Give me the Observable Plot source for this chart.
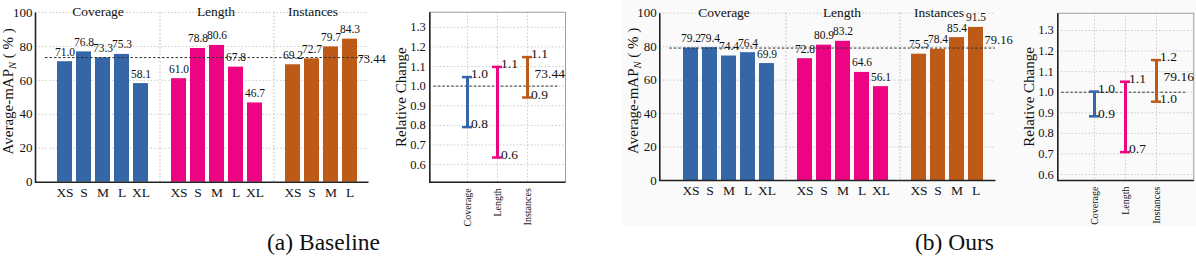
<!DOCTYPE html>
<html>
<head>
<meta charset="utf-8">
<script src="https://cdn.jsdelivr.net/npm/d3@7"></script>
<script src="https://cdn.jsdelivr.net/npm/@observablehq/plot@0.6"></script>
<style>
  html, body { margin: 0; padding: 0; background: #fff; }
  #root { position: relative; width: 1196px; height: 269px; overflow: hidden; font-family: "Liberation Serif", "Times New Roman", serif; }
  .panel { position: absolute; top: 0; }
  .panel text { font-family: "Liberation Serif", "Times New Roman", serif; }
  .caption { position: absolute; font-family: "Liberation Serif", "Times New Roman", serif; font-size: 23.5px; line-height: 1; color: #111; white-space: nowrap; }
  #bgright { position: absolute; left: 622px; top: 0; width: 574px; height: 226px; background: #fafafa; }
</style>
</head>
<body>
<div id="root">
  <div id="bgright"></div>
</div>
<script>
// ---- data ----
const groups = ["Coverage", "Length", "Instances"];
const groupColors = ["#3566a8", "#ec0482", "#bd5a17"];
const coverageSizes = ["XS", "S", "M", "L", "XL"];
const lengthSizes = ["XS", "S", "M", "L", "XL"];
const instanceSizes = ["XS", "S", "M", "L"];

const baselineCoverage = [71.0, 76.8, 73.3, 75.3, 58.1];
const baselineLength = [61.0, 78.8, 80.6, 67.8, 46.7];
const baselineInstances = [69.2, 72.7, 79.7, 84.3];
const baselineMean = 73.44;
const baselineRelLow = [0.791, 0.636, 0.942];
const baselineRelHigh = [1.046, 1.098, 1.148];

const oursCoverage = [79.2, 79.4, 74.4, 76.4, 69.9];
const oursLength = [72.8, 80.9, 83.2, 64.6, 56.1];
const oursInstances = [75.5, 78.4, 85.4, 91.5];
const oursMean = 79.16;
const oursRelLow = [0.883, 0.709, 0.954];
const oursRelHigh = [1.003, 1.051, 1.156];

const barTicks = [0, 20, 40, 60, 80, 100];
const relTicks = [0.6, 0.7, 0.8, 0.9, 1.0, 1.1, 1.2, 1.3];
const captions = ["(a) Baseline", "(b) Ours"];

// ---- helpers ----
const sizeLists = [coverageSizes, lengthSizes, instanceSizes];
const FONT = '"Liberation Serif", "Times New Roman", serif';
const color = {domain: groups, range: groupColors};

function barRows(vals) {
  const rows = [];
  groups.forEach((g, gi) => sizeLists[gi].forEach((s, i) => rows.push({group: g, size: s, key: g + "|" + s, value: vals[gi][i]})));
  return rows;
}
function barDomain() {
  const keys = [];
  groups.forEach((g, gi) => {
    if (gi > 0) keys.push("gap" + gi);
    sizeLists[gi].forEach(s => keys.push(g + "|" + s));
  });
  return keys;
}

function subscriptFix(svg) {
  svg.querySelectorAll("text").forEach(t => {
    if (t.textContent === "Average-mAP_N (%)") {
      t.textContent = "";
      const ns = "http://www.w3.org/2000/svg";
      const a = document.createElementNS(ns, "tspan"); a.textContent = "Average-mAP";
      const b = document.createElementNS(ns, "tspan"); b.textContent = "N";
      b.setAttribute("font-style", "italic"); b.setAttribute("font-size", "10.5"); b.setAttribute("dy", "3");
      const c = document.createElementNS(ns, "tspan"); c.textContent = " ( % )"; c.setAttribute("dy", "-3");
      t.append(a, b, c);
    }
  });
}

function barPanel({vals, mean, left, width, mLeft, mRight, mTop, mBottom, meanDy}) {
  const height = 205;
  const rows = barRows(vals);
  const domain = barDomain();
  const W = width - mLeft - mRight, H = height - mTop - mBottom;
  const svg = Plot.plot({
    width, height,
    marginLeft: mLeft, marginRight: mRight, marginTop: mTop, marginBottom: mBottom,
    style: {fontFamily: FONT, fontSize: "13px", background: "transparent", overflow: "visible", color: "#111"},
    x: {type: "band", domain, paddingInner: 0.21, paddingOuter: 0.855, align: 0.66, axis: null},
    y: {domain: [0, 100], axis: null},
    color,
    marks: [
      Plot.gridY(barTicks.slice(1), {stroke: "#aaa", strokeOpacity: 0.6, strokeDasharray: "1.5,2"}),
      Plot.ruleX(domain.filter(k => k.startsWith("gap")), {stroke: "#aaa", strokeOpacity: 0.8, strokeDasharray: "1.5,2"}),
      Plot.barY(rows, {x: "key", y: "value", fill: "group"}),
      Plot.frame({stroke: "#222", strokeWidth: 1.6, strokeDasharray: `0,${W + H},${W + H}`}),
      Plot.axisY(barTicks, {anchor: "left", tickSize: 0, tickPadding: 3, label: null, fontSize: 13}),
      Plot.axisX(rows.map(d => d.key), {anchor: "bottom", tickSize: 0, tickPadding: 5, label: null, tickFormat: k => k.split("|")[1], fontSize: 13.5}),
      Plot.text(rows, {x: "key", y: "value", text: d => d.value.toFixed(1), dy: -6, fontSize: 11.5, lineAnchor: "bottom"}),
      Plot.ruleY([mean], {stroke: "#333", strokeWidth: 1, strokeDasharray: "2.5,2", insetLeft: 10}),
      Plot.text([mean], {y: d => d, text: d => d.toFixed(2), frameAnchor: "right", textAnchor: "start", dx: -11, dy: meanDy, fontSize: 12.5}),
      Plot.text([groups[0]], {x: [groups[0] + "|M"], text: d => d, frameAnchor: "top", dy: -6, dx: -5, fontSize: 13.5}),
      Plot.text([groups[1]], {x: [groups[1] + "|M"], text: d => d, frameAnchor: "top", dy: -6, dx: -1, fontSize: 13.5}),
      Plot.text([groups[2]], {x: [groups[2] + "|S"], text: d => d, frameAnchor: "top", dy: -6, dx: 1, fontSize: 13.5}),
      Plot.text(["Average-mAP_N (%)"], {text: d => d, frameAnchor: "left", textAnchor: "middle", rotate: -90, dx: -27, dy: -6, fontSize: 15})
    ]
  });
  subscriptFix(svg);
  svg.classList.add("panel");
  svg.style.left = left + "px";
  document.getElementById("root").appendChild(svg);
}

function relPanel({low, high, mean, yDomain, left, width, mLeft, mRight, mTop, mBottom}) {
  const height = 240;
  const rows = groups.map((g, i) => ({group: g, low: low[i], high: high[i], mid: (low[i] + high[i]) / 2}));
  const W = width - mLeft - mRight, H = height - mTop - mBottom;
  const svg = Plot.plot({
    width, height,
    marginLeft: mLeft, marginRight: mRight, marginTop: mTop, marginBottom: mBottom,
    style: {fontFamily: FONT, fontSize: "14px", background: "transparent", overflow: "visible", color: "#111"},
    x: {type: "band", domain: groups, paddingInner: 0.68, paddingOuter: 1.03, axis: null},
    y: {domain: yDomain, axis: null},
    color,
    marks: [
      Plot.gridY(relTicks, {stroke: "#aaa", strokeOpacity: 0.6, strokeDasharray: "1.5,2"}),
      Plot.gridX(groups, {stroke: "#aaa", strokeOpacity: 0.6, strokeDasharray: "1.5,2"}),
      Plot.frame({stroke: "#888", strokeWidth: 0.8}),
      Plot.frame({stroke: "#222", strokeWidth: 1.6, strokeDasharray: `0,${W + H},${W + H}`}),
      Plot.axisY(relTicks, {anchor: "left", tickSize: 0, tickPadding: 4, label: null, tickFormat: d => d.toFixed(1), fontSize: 12.5}),
      Plot.axisX(groups, {anchor: "bottom", tickSize: 0, tickPadding: 6, tickRotate: -90, label: null, fontSize: 10}),
      Plot.ruleY([1.0], {stroke: "#333", strokeWidth: 1, strokeDasharray: "2.5,2", insetLeft: 4, insetRight: 7}),
      Plot.ruleX(rows, {x: "group", y1: "low", y2: "high", stroke: "group", strokeWidth: 3}),
      Plot.tickY(rows, {x: "group", y: "low", stroke: "group", strokeWidth: 2.5}),
      Plot.tickY(rows, {x: "group", y: "high", stroke: "group", strokeWidth: 2.5}),
      Plot.text(rows, {x: "group", y: "high", text: d => d.high.toFixed(1), textAnchor: "start", dx: 3.5, dy: -3, fontSize: 13.5}),
      Plot.text(rows, {x: "group", y: "low", text: d => d.low.toFixed(1), textAnchor: "start", dx: 3.5, dy: -3, fontSize: 13.5}),
      Plot.text(rows.slice(2), {x: "group", y: "mid", text: () => mean.toFixed(2), textAnchor: "start", dx: 7, dy: -4, fontSize: 13.5}),
      Plot.text(["Relative Change"], {text: d => d, frameAnchor: "left", textAnchor: "middle", rotate: -90, dx: -29, fontSize: 15})
    ]
  });
  svg.classList.add("panel");
  svg.style.left = left + "px";
  document.getElementById("root").appendChild(svg);
}

barPanel({vals: [baselineCoverage, baselineLength, baselineInstances], mean: baselineMean,
  left: 0, width: 385, mLeft: 35, mRight: 17, mTop: 12, mBottom: 23.3, meanDy: 1});
relPanel({low: baselineRelLow, high: baselineRelHigh, mean: baselineMean, yDomain: [0.51, 1.377],
  left: 380, width: 190, mLeft: 49.3, mRight: 5, mTop: 11.7, mBottom: 58.3});
barPanel({vals: [oursCoverage, oursLength, oursInstances], mean: oursMean,
  left: 600, width: 400, mLeft: 59.3, mRight: 5, mTop: 12.7, mBottom: 25, meanDy: -8});
relPanel({low: oursRelLow, high: oursRelHigh, mean: oursMean, yDomain: [0.571, 1.384],
  left: 1000, width: 196, mLeft: 57.3, mRight: 2.7, mTop: 12.7, mBottom: 60});

const root = document.getElementById("root");
[[267, captions[0]], [915, captions[1]]].forEach(([x, t]) => {
  const d = document.createElement("div");
  d.className = "caption";
  d.style.left = x + "px";
  d.style.top = "231px";
  d.textContent = t;
  root.appendChild(d);
});
</script>
</body>
</html>
